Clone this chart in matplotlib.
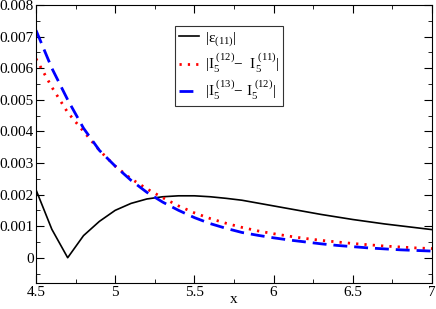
import matplotlib
matplotlib.use("Agg")
import matplotlib.pyplot as plt
from matplotlib.ticker import MultipleLocator, FuncFormatter

plt.rcParams['font.family'] = ['Liberation Serif', 'DejaVu Serif']
plt.rcParams['mathtext.fontset'] = 'custom'
plt.rcParams['mathtext.rm'] = 'Liberation Serif'
plt.rcParams['mathtext.it'] = 'Liberation Serif:italic'

x = [4.5, 4.6, 4.7, 4.8, 4.9, 5.0, 5.1, 5.2, 5.3, 5.4, 5.5, 5.6, 5.7,
     5.8, 5.9, 6.0, 6.1, 6.2, 6.3, 6.4, 6.5, 6.6, 6.7, 6.8, 6.9, 7.0]

eps11 = [0.00215, 0.0009, 0.0, 0.0007, 0.00115, 0.0015, 0.00172, 0.00186,
         0.00193, 0.00196, 0.00196, 0.00193, 0.00188, 0.00182, 0.00173,
         0.00164, 0.00155, 0.00146, 0.00137, 0.00129, 0.00121, 0.00114,
         0.00107, 0.00101, 0.00095, 0.00089]

diff_12_11 = [0.0063, 0.0054, 0.0046, 0.0040, 0.0034, 0.0029, 0.0025,
              0.00218, 0.00190, 0.00164, 0.00142, 0.00124, 0.00109,
              0.00096, 0.00085, 0.00076, 0.00068, 0.00061, 0.00055,
              0.0005, 0.00045, 0.00041, 0.00037, 0.00034, 0.00031, 0.00029]

diff_13_12 = [0.0072, 0.0060, 0.0050, 0.0041, 0.0034, 0.0029, 0.00245,
              0.00207, 0.00176, 0.0015, 0.00127, 0.00108, 0.00093,
              0.0008, 0.00071, 0.00063, 0.00056, 0.0005, 0.00044,
              0.00039, 0.00035, 0.00031, 0.00028, 0.00025, 0.00023, 0.00021]

labels = [r'$|\mathrm{\epsilon}_{(11)}|$',
          r'$|\mathrm{I}_5^{\ (12)}\mathrm{-}\ \ \mathrm{I}_5^{\ (11)}|$',
          r'$|\mathrm{I}_5^{\ (13)}\mathrm{-}\ \mathrm{I}_5^{\ (12)}|$']

fig = plt.figure(figsize=(4.36, 3.09), dpi=100)
ax = fig.add_axes([36/436, 1-283/309, 396/436, 278/309])

ax.plot(x, eps11, color='black', lw=1.2, label=labels[0])
ax.plot(x, diff_12_11, color='red', lw=2, linestyle=(0, (0.8, 2.2)), label=labels[1])
ax.plot(x, diff_13_12, color='blue', lw=2, linestyle=(0, (5, 2.5)), label=labels[2])

ax.set_xlim(4.5, 7)
ax.set_ylim(-0.0008, 0.008)
ax.xaxis.set_major_locator(MultipleLocator(0.5))
ax.xaxis.set_minor_locator(MultipleLocator(0.25))
ax.yaxis.set_major_locator(MultipleLocator(0.001))
ax.yaxis.set_minor_locator(MultipleLocator(0.0005))
ax.xaxis.set_major_formatter(FuncFormatter(lambda v, p: '%g' % v))
ax.yaxis.set_major_formatter(FuncFormatter(lambda v, p: '%g' % round(v, 4)))
ax.tick_params(which='both', direction='in', top=True, right=True, labelsize=11)
ax.tick_params(which='major', length=6)
ax.tick_params(which='minor', length=3)
ax.tick_params(axis='y', pad=1.5)
ax.tick_params(axis='x', pad=2)
ax.set_xlabel('x', fontsize=11, labelpad=-4)

leg = ax.legend(loc='upper left', bbox_to_anchor=(0.351, 0.924), fontsize=11,
                fancybox=False, edgecolor='black', handlelength=1.3,
                borderpad=0.25, labelspacing=0.25, handletextpad=0.4,
                borderaxespad=0)
leg.get_frame().set_linewidth(0.8)

fig.savefig('out.png', dpi=100)
